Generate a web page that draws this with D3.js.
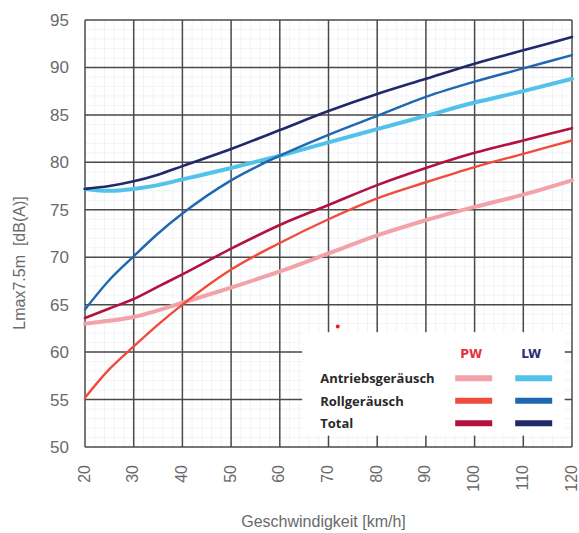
<!DOCTYPE html>
<html>
<head>
<meta charset="utf-8">
<script src="https://cdn.jsdelivr.net/npm/d3@7"></script>
<style>
  body { margin: 0; background: #fff; }
  svg { display: block; }
</style>
</head>
<body>
<script>
// speeds (km/h) at which values were read
const speeds = [20, 25, 30, 35, 40, 50, 60, 70, 80, 90, 100, 110, 120];

// Lmax 7.5m values per series
const pwAntrieb = [63.0, 63.3, 63.7, 64.4, 65.2, 66.8, 68.5, 70.4, 72.3, 73.9, 75.3, 76.6, 78.1];
const pwRoll    = [55.2, 58.2, 60.6, 62.9, 65.0, 68.7, 71.5, 74.0, 76.2, 77.9, 79.5, 80.9, 82.3];
const pwTotal   = [63.6, 64.6, 65.6, 66.9, 68.2, 70.9, 73.4, 75.5, 77.6, 79.4, 81.0, 82.3, 83.6];
const lwAntrieb = [77.2, 77.0, 77.2, 77.6, 78.2, 79.4, 80.7, 82.1, 83.5, 84.9, 86.3, 87.5, 88.8];
const lwRoll    = [64.5, 67.6, 70.1, 72.5, 74.6, 78.1, 80.7, 82.9, 84.9, 86.9, 88.5, 89.9, 91.3];
const lwTotal   = [77.2, 77.5, 78.0, 78.7, 79.6, 81.4, 83.4, 85.4, 87.2, 88.8, 90.4, 91.8, 93.2];

const xTicks = [20, 30, 40, 50, 60, 70, 80, 90, 100, 110, 120];
const yTicks = [50, 55, 60, 65, 70, 75, 80, 85, 90, 95];

const legendRows = ["Antriebsgeräusch", "Rollgeräusch", "Total"];
const legendCols = ["PW", "LW"];

// stray red dot in the original
const marker = [{x: 71.9, y: 62.7}];

const series = [
  {name: "PW Antrieb", values: pwAntrieb, color: "#f2a2a8", w: 4},
  {name: "PW Roll",    values: pwRoll,    color: "#f04c3c", w: 2.4},
  {name: "PW Total",   values: pwTotal,   color: "#b3123f", w: 2.6},
  {name: "LW Antrieb", values: lwAntrieb, color: "#52c2ea", w: 4},
  {name: "LW Roll",    values: lwRoll,    color: "#1f67b1", w: 2.4},
  {name: "LW Total",   values: lwTotal,   color: "#20296a", w: 2.6}
];

const margin = {top: 20, right: 7, bottom: 86, left: 85};
const W = 579, H = 533;
const width = W - margin.left - margin.right;
const height = H - margin.top - margin.bottom;

const svg = d3.select("body").append("svg")
  .attr("width", W)
  .attr("height", H);

const g = svg.append("g")
  .attr("transform", `translate(${margin.left},${margin.top})`);

const x = d3.scaleLinear().domain([20, 120]).range([0, width]);
const y = d3.scaleLinear().domain([50, 95]).range([height, 0]);

//minor grid
g.append("g")
  .selectAll("line")
  .data(d3.range(22, 120, 2))
  .enter().append("line")
  .attr("x1", d => x(d)).attr("x2", d => x(d))
  .attr("y1", 0).attr("y2", height)
  .attr("stroke", "#f1f3f7").attr("stroke-width", 1);

g.append("g")
  .selectAll("line")
  .data(d3.range(51, 95, 1))
  .enter().append("line")
  .attr("y1", d => y(d)).attr("y2", d => y(d))
  .attr("x1", 0).attr("x2", width)
  .attr("stroke", "#f1f3f7").attr("stroke-width", 1);

//major grid
g.append("g")
  .selectAll("line")
  .data(xTicks)
  .enter().append("line")
  .attr("x1", d => x(d)).attr("x2", d => x(d))
  .attr("y1", 0).attr("y2", height)
  .attr("stroke", "#4a4a4a").attr("stroke-width", 1.5);

g.append("g")
  .selectAll("line")
  .data(yTicks)
  .enter().append("line")
  .attr("y1", d => y(d)).attr("y2", d => y(d))
  .attr("x1", 0).attr("x2", width)
  .attr("stroke", "#4a4a4a").attr("stroke-width", 1.5);

//axes (labels only)
const xAxis = d3.axisBottom(x).tickValues(xTicks).tickSize(0).tickPadding(0);
const yAxis = d3.axisLeft(y).tickValues(yTicks).tickSize(0).tickPadding(16);

g.append("g")
  .attr("transform", `translate(0,${height})`)
  .call(xAxis)
  .call(a => a.select(".domain").remove())
  .selectAll("text")
  .attr("transform", "rotate(-90)")
  .attr("text-anchor", "end")
  .attr("dy", "0.25em")
  .attr("x", -18)
  .attr("y", 0)
  .attr("fill", "#6a6a6a")
  .style("font", "16px 'Liberation Sans', Arial, sans-serif");

g.append("g")
  .call(yAxis)
  .call(a => a.select(".domain").remove())
  .selectAll("text")
  .attr("fill", "#6a6a6a")
  .style("font", "17px 'Liberation Sans', Arial, sans-serif");

//axis titles
svg.append("text")
  .attr("x", margin.left + width / 2 - 5)
  .attr("y", 527)
  .attr("text-anchor", "middle")
  .attr("fill", "#6a6a6a")
  .style("font", "16px 'Liberation Sans', Arial, sans-serif")
  .text("Geschwindigkeit [km/h]");

svg.append("text")
  .attr("transform", `translate(25,${margin.top + 243}) rotate(-90)`)
  .attr("text-anchor", "middle")
  .attr("fill", "#6a6a6a")
  .style("font", "16px 'Liberation Sans', Arial, sans-serif")
  .style("white-space", "pre")
  .text("Lmax7.5m  [dB(A)]");

//lines
const line = d3.line()
  .x((d, i) => x(speeds[i]))
  .y(d => y(d))
  .curve(d3.curveMonotoneX);

g.append("g")
  .selectAll("path")
  .data(series)
  .enter().append("path")
  .attr("d", d => line(d.values))
  .attr("fill", "none")
  .attr("stroke", d => d.color)
  .attr("stroke-width", d => d.w)
  .attr("stroke-linecap", "round")
  .attr("stroke-linejoin", "round");

g.selectAll(".marker")
  .data(marker)
  .enter().append("circle")
  .attr("cx", d => x(d.x))
  .attr("cy", d => y(d.y))
  .attr("r", 2)
  .attr("fill", "#e8202a");

//legend
const legend = g.append("g")
  .attr("transform", `translate(${x(64.6)},${y(62.1)})`);

legend.append("rect")
  .attr("width", x(118.5) - x(64.6))
  .attr("height", y(51.2) - y(62.1))
  .attr("fill", "#fff");

legend.selectAll(".colhead")
  .data(legendCols)
  .enter().append("text")
  .attr("x", (d, i) => 169 + i * 60)
  .attr("y", 26)
  .attr("text-anchor", "middle")
  .attr("fill", (d, i) => i === 0 ? "#e5333d" : "#2b2f7a")
  .style("font", "bold 12px 'DejaVu Sans', sans-serif")
  .text(d => d);

legend.selectAll(".rowlabel")
  .data(legendRows)
  .enter().append("text")
  .attr("x", 18)
  .attr("y", (d, i) => 51 + i * 22.5)
  .attr("fill", "#2a2a2a")
  .style("font", "bold 13px 'Open Sans', 'DejaVu Sans', sans-serif")
  .text(d => d);

legend.selectAll(".swatch")
  .data(series)
  .enter().append("line")
  .attr("x1", (d, i) => 153 + Math.floor(i / 3) * 60)
  .attr("x2", (d, i) => 190 + Math.floor(i / 3) * 60)
  .attr("y1", (d, i) => 46 + (i % 3) * 22.5)
  .attr("y2", (d, i) => 46 + (i % 3) * 22.5)
  .attr("stroke", d => d.color)
  .attr("stroke-width", 6);
</script>
</body>
</html>
